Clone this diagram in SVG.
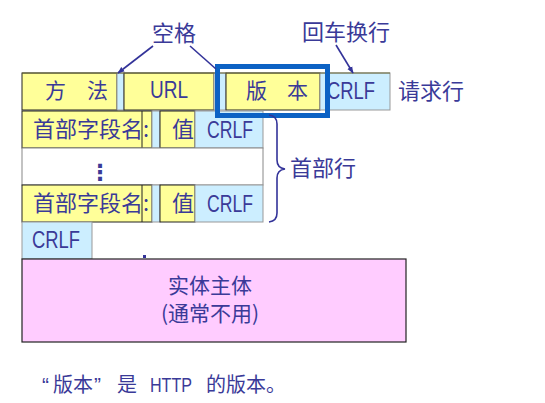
<svg xmlns="http://www.w3.org/2000/svg" width="545" height="403" viewBox="0 0 545 403">
<defs>
<style>
.t{font-family:"Noto Sans CJK SC","Liberation Sans",sans-serif;fill:#3a3a98;font-size:21px}
.l{font-family:"Liberation Sans","Noto Sans CJK SC",sans-serif;fill:#3a3a98;font-size:23px}
.m{font-family:"Liberation Sans",sans-serif;fill:#3a3a98;font-size:21px}
.y{fill:#ffff99;stroke:#222;stroke-width:1}
.b{fill:#cceeff;stroke:#999;stroke-width:1}
.w{fill:#fff;stroke:#888;stroke-width:1}
.p{fill:#ffccff;stroke:#222;stroke-width:1.2}
.c{stroke:#333399;stroke-width:1.6;fill:none}
</style>
<marker id="ah" viewBox="0 0 10 10" refX="9" refY="5" markerWidth="7" markerHeight="7" orient="auto" markerUnits="userSpaceOnUse"><path d="M0,1 L10,5 L0,9 z" fill="#333399"/></marker>
</defs>
<rect width="545" height="403" fill="#fff"/>

<g id="request-line">
<rect class="y" x="22" y="73" width="95" height="37"/>
<rect class="b" x="117" y="73" width="7" height="37"/>
<rect class="y" x="124" y="73" width="90" height="37"/>
<rect class="b" x="214" y="73" width="12" height="37"/>
<rect class="y" x="226" y="73" width="94" height="37"/>
<rect class="b" x="320" y="73" width="70" height="37"/>
<line x1="22" y1="73" x2="390" y2="73" stroke="#6b6b3a" stroke-width="1.2"/>
<text class="t" x="45" y="98">方</text>
<text class="t" x="87" y="98">法</text>
<text class="l" x="150" y="98" textLength="38" lengthAdjust="spacingAndGlyphs">URL</text>
<text class="t" x="246" y="98">版</text>
<text class="t" x="287" y="98">本</text>
<text class="l" x="327" y="99" textLength="48" lengthAdjust="spacingAndGlyphs">CRLF</text>
<text class="t" x="398" y="99" style="font-size:22px">请求行</text>
</g>

<g id="header-1">
<rect class="y" x="22" y="111" width="130" height="37"/>
<line x1="142" y1="111" x2="142" y2="148" stroke="#222"/>
<rect class="b" x="152" y="111" width="8" height="37"/>
<rect class="y" x="160" y="111" width="35" height="37"/>
<rect class="b" x="195" y="111" width="68" height="37"/>
<text class="t" x="33" y="137" style="font-size:22px">首部字段名:</text>
<text class="t" x="172" y="137" style="font-size:22px">值</text>
<text class="l" x="207" y="138" textLength="46" lengthAdjust="spacingAndGlyphs">CRLF</text>
</g>

<g id="header-gap">
<rect class="w" x="22" y="148" width="241" height="37"/>
<text x="89" y="180" style="font-family:'DejaVu Sans',sans-serif;font-size:22px;font-weight:bold;fill:#3a3a98">⋮</text>
</g>

<g id="header-n">
<rect class="y" x="22" y="185" width="130" height="37"/>
<line x1="142" y1="185" x2="142" y2="222" stroke="#222"/>
<rect class="b" x="152" y="185" width="8" height="37"/>
<rect class="y" x="160" y="185" width="35" height="37"/>
<rect class="b" x="195" y="185" width="68" height="37"/>
<text class="t" x="33" y="211" style="font-size:22px">首部字段名:</text>
<text class="t" x="172" y="211" style="font-size:22px">值</text>
<text class="l" x="207" y="212" textLength="46" lengthAdjust="spacingAndGlyphs">CRLF</text>
</g>

<g id="blank-crlf">
<rect class="b" x="22" y="222" width="70" height="37"/>
<text class="l" x="32" y="248" textLength="48" lengthAdjust="spacingAndGlyphs">CRLF</text>
<rect x="143" y="255" width="3" height="3" fill="#333399"/>
</g>

<g id="entity-body">
<rect class="p" x="22" y="259" width="384" height="83"/>
<text class="t" x="210" y="293" text-anchor="middle" style="font-size:21px">实体主体</text>
<text class="t" x="210" y="321" text-anchor="middle" style="font-size:21px">(通常不用)</text>
</g>

<g id="version-highlight">
<rect x="217.5" y="66.5" width="110" height="49" fill="none" stroke="#0c62c4" stroke-width="5"/>
</g>

<g id="labels">
<text class="t" x="152" y="41" style="font-size:22px">空格</text>
<text class="t" x="302" y="40" style="font-size:22px">回车换行</text>
<text class="t" x="290" y="176" style="font-size:22px">首部行</text>
</g>

<g id="connectors">
<line class="c" x1="153" y1="46" x2="118" y2="73" marker-end="url(#ah)"/>
<line class="c" x1="190" y1="46" x2="216" y2="69"/>
<line class="c" x1="336" y1="45" x2="353" y2="73" marker-end="url(#ah)"/>
<path class="c" d="M269,115 Q277,116 277,124 L277,160 Q277,168 285,169 Q277,170 277,178 L277,213 Q277,221 269,222"/>
</g>

<g id="footnote">
<text class="m" x="42" y="392">“</text>
<text class="t" x="53" y="392" style="font-size:20px">版本</text>
<text class="m" x="94" y="392">”</text>
<text class="t" x="117" y="392" style="font-size:20px">是</text>
<text class="m" x="150" y="392" textLength="42" lengthAdjust="spacingAndGlyphs">HTTP</text>
<text class="t" x="206" y="392" style="font-size:20px">的版本。</text>
</g>
</svg>
